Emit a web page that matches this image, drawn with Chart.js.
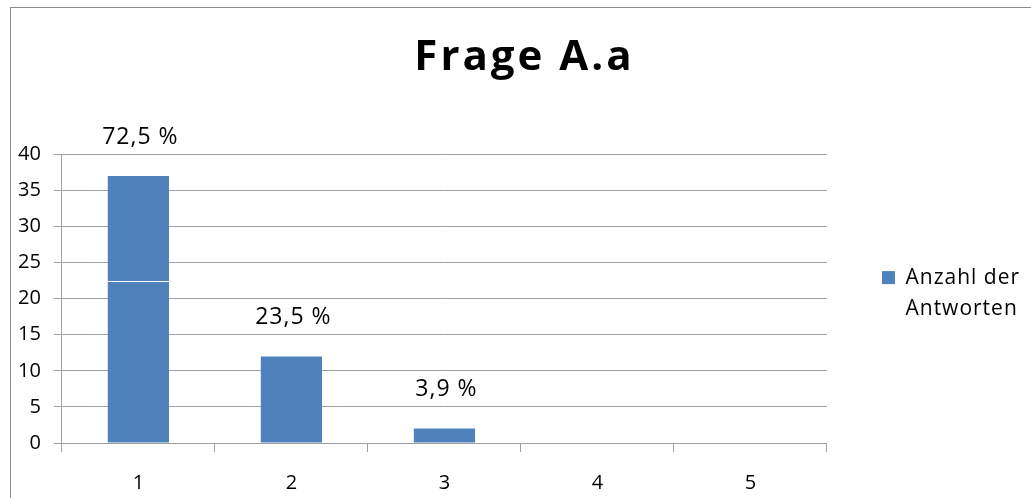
<!DOCTYPE html>
<html>
<head>
<meta charset="utf-8">
<script src="https://cdn.jsdelivr.net/npm/chart.js@4.4.1/dist/chart.umd.min.js"></script>
<style>
  html, body { margin: 0; padding: 0; background: #ffffff; overflow: hidden; }
  #wrap { position: relative; width: 1031px; height: 514px; }
</style>
</head>
<body>
<div id="wrap"><canvas id="c"></canvas></div>
<script>
// ---- data ----
const categories = ['1', '2', '3', '4', '5'];
const answerCounts = [37, 12, 2, 0, 0];
const percentLabels = ['72,5 %', '23,5 %', '3,9 %', '', ''];
const barSeams = [22.5, null, null, null, null];
const yTicks = [0, 5, 10, 15, 20, 25, 30, 35, 40];
const seriesName = ['Anzahl der', 'Antworten'];
const chartTitle = 'Frage A.a';

const barColor = '#4F81BD';
const gridColor = '#a0a0a0';
const FONT = "'Open Sans', 'DejaVu Sans', sans-serif";

// outer frame
const framePlugin = {
  id: 'frame',
  beforeDraw(chart) {
    const ctx = chart.ctx;
    ctx.save();
    ctx.strokeStyle = '#8c8c8c';
    ctx.lineWidth = 1;
    ctx.strokeRect(10.5, 7.5, 1100, 600);
    ctx.restore();
  }
};

// letter spacing + offset wrapper for title & legend (legend drawn without clipping)
const spacingPlugin = {
  id: 'spacing',
  afterLayout(chart) {
    const wrap = (box, spacing, dx, dy) => {
      if (!box || box.__wrapped) return;
      const orig = box.draw;
      box.draw = function () {
        if (!this.options.display) return;
        const ctx = chart.ctx;
        ctx.save();
        ctx.letterSpacing = spacing;
        ctx.translate(dx, dy);
        if (typeof this._draw === 'function') this._draw();
        else orig.apply(this, arguments);
        ctx.restore();
      };
      box.__wrapped = true;
    };
    wrap(chart.titleBlock, '3px', 12, 3);
    wrap(chart.legend, '1px', 0, 42);
  }
};

// percentage labels above bars and the seam in bar 1
const labelPlugin = {
  id: 'barLabels',
  afterDatasetsDraw(chart) {
    const ctx = chart.ctx;
    const meta = chart.getDatasetMeta(0);
    const y = chart.scales.y;
    ctx.save();
    meta.data.forEach((bar, i) => {
      const seam = barSeams[i];
      if (seam !== null && seam !== undefined) {
        const py = Math.round(y.getPixelForValue(seam)) + 0.5;
        ctx.strokeStyle = '#ffffff';
        ctx.lineWidth = 1;
        ctx.beginPath();
        ctx.moveTo(bar.x - bar.width / 2, py);
        ctx.lineTo(bar.x + bar.width / 2, py);
        ctx.stroke();
      }
    });
    ctx.fillStyle = '#000000';
    ctx.font = '23px ' + FONT;
    ctx.letterSpacing = '1px';
    ctx.textAlign = 'center';
    ctx.textBaseline = 'middle';
    meta.data.forEach((bar, i) => {
      const txt = percentLabels[i];
      if (txt) ctx.fillText(txt, bar.x + 2, bar.y - 39);
    });
    ctx.restore();
  }
};

new Chart(document.getElementById('c'), {
  type: 'bar',
  data: {
    labels: categories,
    datasets: [{
      label: seriesName,
      data: answerCounts,
      backgroundColor: barColor,
      borderWidth: 0,
      categoryPercentage: 0.8,
      barPercentage: 0.5
    }]
  },
  plugins: [framePlugin, spacingPlugin, labelPlugin],
  options: {
    responsive: true,
    maintainAspectRatio: false,
    animation: false,
    layout: { padding: { left: 5, right: 11, top: 0, bottom: 0 } },
    plugins: {
      title: {
        display: true,
        text: chartTitle,
        color: '#000000',
        font: { family: FONT, size: 42, weight: 'bold', lineHeight: 1.2 },
        padding: { top: 30, bottom: 74 }
      },
      legend: {
        display: true,
        position: 'right',
        labels: {
          color: '#000000',
          boxWidth: 13,
          boxHeight: 13,
          padding: 55,
          font: { family: FONT, size: 21, lineHeight: 1.52 },
          generateLabels(chart) {
            const ds = chart.data.datasets[0];
            return [{
              text: ds.label,
              fillStyle: ds.backgroundColor,
              strokeStyle: ds.backgroundColor,
              lineWidth: 0,
              hidden: false,
              datasetIndex: 0
            }];
          }
        }
      },
      tooltip: { enabled: false }
    },
    scales: {
      x: {
        grid: {
          display: true,
          drawOnChartArea: false,
          drawTicks: true,
          tickLength: 9,
          color: gridColor,
          offset: true
        },
        border: { display: true, color: gridColor },
        ticks: {
          color: '#000000',
          font: { family: FONT, size: 20, lineHeight: 1.2 },
          padding: 19,
          maxRotation: 0
        }
      },
      y: {
        min: 0,
        max: 40,
        afterBuildTicks(scale) {
          scale.ticks = yTicks.map(v => ({ value: v }));
        },
        grid: {
          color: gridColor,
          drawTicks: true,
          tickLength: 8
        },
        border: { display: true, color: gridColor },
        ticks: {
          color: '#000000',
          font: { family: FONT, size: 20, lineHeight: 1.2 },
          padding: 13,
          stepSize: 5
        }
      }
    }
  }
});
</script>
</body>
</html>
